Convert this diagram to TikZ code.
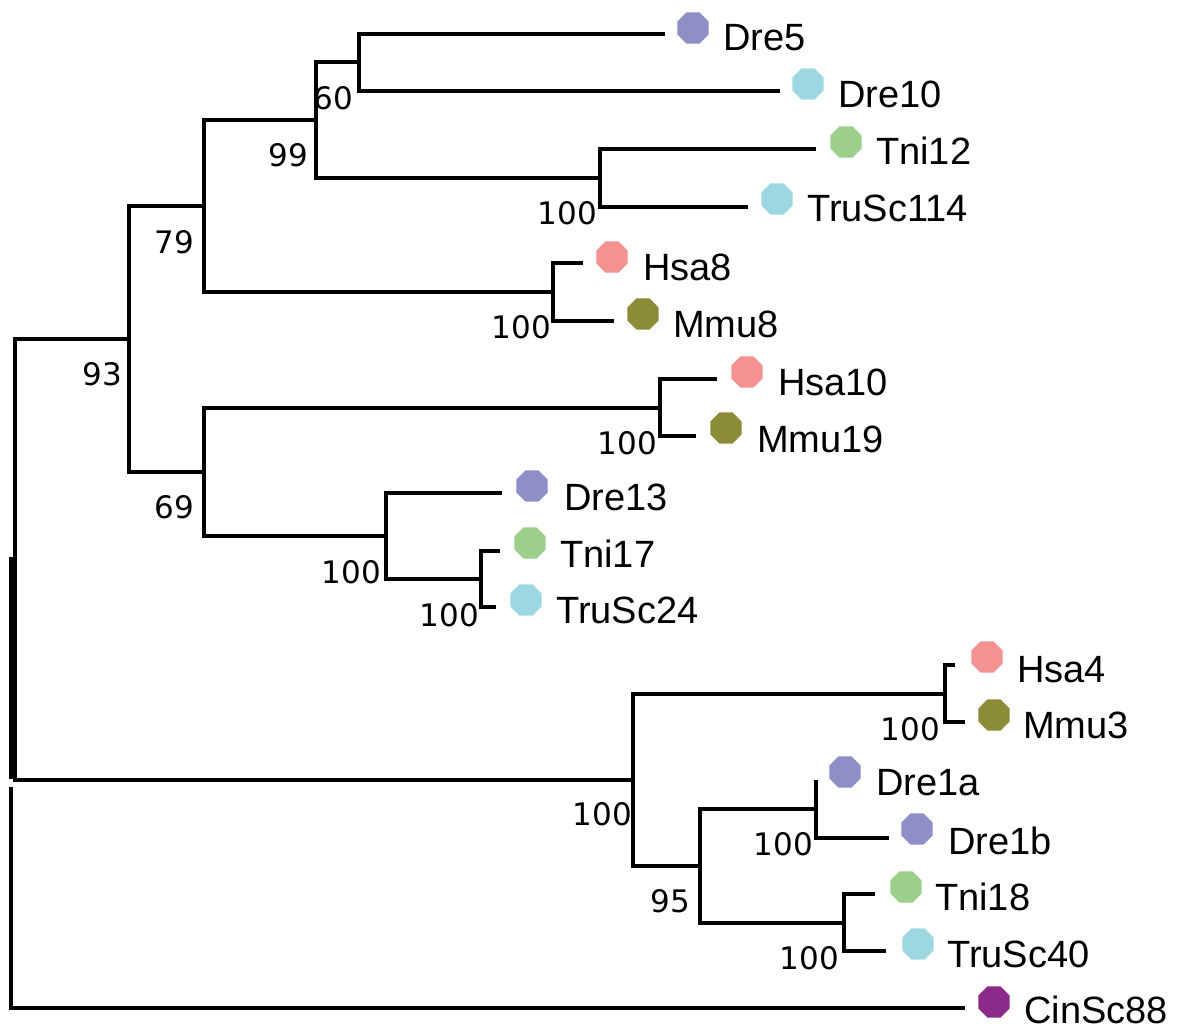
\documentclass[tikz,border=0pt]{standalone}
\usepackage{fontspec}
\setmainfont{Liberation Sans}
\newfontfamily\bsfont{DejaVu Sans}
\usetikzlibrary{shapes.geometric}
\definecolor{cdre}{HTML}{8E8FC6}
\definecolor{ccyan}{HTML}{9DD8E2}
\definecolor{cgreen}{HTML}{9BCF8A}
\definecolor{cpink}{HTML}{F49191}
\definecolor{colive}{HTML}{8C8C38}
\definecolor{ccin}{HTML}{8B2A8A}
\tikzset{
  br/.style={line width=4pt, line join=miter, line cap=butt},
  boot/.style={anchor=base east, inner sep=0pt, font=\bsfont\fontsize{31}{31}\selectfont},
  leaf/.style={anchor=base west, inner sep=0pt, font=\fontsize{38}{38}\selectfont},
  octdot/.style={regular polygon, regular polygon sides=8, minimum size=34pt, inner sep=0pt, fill=#1, draw=none},
}
\begin{document}
\begin{tikzpicture}[x=1pt,y=-1pt]
\useasboundingbox (0,0) rectangle (1180,1035);
% internal nodes
\coordinate (root) at (15,558.5);
\coordinate (n93) at (129,339);
\coordinate (n79) at (204,206.5);
\coordinate (n99) at (316,120.5);
\coordinate (n60) at (359,62.5);
\coordinate (nT) at (600,178);
\coordinate (nH8) at (553,292);
\coordinate (n69) at (204,472);
\coordinate (nH10) at (660,407.5);
\coordinate (nD13) at (386,536);
\coordinate (nT17) at (481,579);
\coordinate (nL) at (633,779.5);
\coordinate (nH4) at (945,693.5);
\coordinate (n95) at (700,865.5);
\coordinate (nD1) at (816,809);
\coordinate (nT18) at (844,922.5);
\coordinate (outA) at (11,557);
\coordinate (outB) at (11,779);
\coordinate (outC) at (11,787);
% leaf tips
\coordinate (tDre5) at (665,34);
\coordinate (tDre10) at (780,91);
\coordinate (tTni12) at (816,149);
\coordinate (tTruSc114) at (748,207);
\coordinate (tHsa8) at (583,263);
\coordinate (tMmu8) at (614,321);
\coordinate (tHsa10) at (717,379);
\coordinate (tMmu19) at (696,436);
\coordinate (tDre13) at (502,493);
\coordinate (tTni17) at (500,551);
\coordinate (tTruSc24) at (496,607);
\coordinate (tHsa4) at (955,665);
\coordinate (tMmu3) at (965,722);
\coordinate (tDre1a) at (816,780);
\coordinate (tDre1b) at (889,838);
\coordinate (tTni18) at (875,894);
\coordinate (tTruSc40) at (886,951);
\coordinate (tCinSc88) at (965,1008);
% bootstrap labels
\node[boot] (b60) at (353,110) {60};
\node[boot] (b99) at (308,167) {99};
\node[boot] (bT) at (597,225) {100};
\node[boot] (b79) at (194,253) {79};
\node[boot] (bH8) at (551,338) {100};
\node[boot] (b93) at (122,385) {93};
\node[boot] (bH10) at (657,454) {100};
\node[boot] (b69) at (194,518) {69};
\node[boot] (bD13) at (381,583) {100};
\node[boot] (bT17) at (479,626) {100};
\node[boot] (bL) at (632,825) {100};
\node[boot] (bH4) at (940,740) {100};
\node[boot] (bD1) at (813,855) {100};
\node[boot] (b95) at (690,912) {95};
\node[boot] (bT18) at (839,969) {100};
% branches
\draw[br] (root) |- (n93);
\draw[br] (root) |- (nL);
\draw[br] (outA) -- (outB);
\draw[br] (outC) |- (tCinSc88);
\draw[br] (n93) |- (n79);
\draw[br] (n93) |- (n69);
\draw[br] (n79) |- (n99);
\draw[br] (n79) |- (nH8);
\draw[br] (n99) |- (n60);
\draw[br] (n99) |- (nT);
\draw[br] (n60) |- (tDre5);
\draw[br] (n60) |- (tDre10);
\draw[br] (nT) |- (tTni12);
\draw[br] (nT) |- (tTruSc114);
\draw[br] (nH8) |- (tHsa8);
\draw[br] (nH8) |- (tMmu8);
\draw[br] (n69) |- (nH10);
\draw[br] (n69) |- (nD13);
\draw[br] (nH10) |- (tHsa10);
\draw[br] (nH10) |- (tMmu19);
\draw[br] (nD13) |- (tDre13);
\draw[br] (nD13) |- (nT17);
\draw[br] (nT17) |- (tTni17);
\draw[br] (nT17) |- (tTruSc24);
\draw[br] (nL) |- (nH4);
\draw[br] (nL) |- (n95);
\draw[br] (nH4) |- (tHsa4);
\draw[br] (nH4) |- (tMmu3);
\draw[br] (n95) |- (nD1);
\draw[br] (n95) |- (nT18);
\draw[br] (nD1) -- (tDre1a);
\draw[br] (nD1) |- (tDre1b);
\draw[br] (nT18) |- (tTni18);
\draw[br] (nT18) |- (tTruSc40);
% leaf dots and names
\node[octdot=cdre] (dDre5) at (693,28) {};
\node[leaf] (lDre5) at (723,51) {Dre5};
\node[octdot=ccyan] (dDre10) at (808,84) {};
\node[leaf] (lDre10) at (838,108) {Dre10};
\node[octdot=cgreen] (dTni12) at (846,142) {};
\node[leaf] (lTni12) at (876,165) {Tni12};
\node[octdot=ccyan] (dTruSc114) at (777,199) {};
\node[leaf] (lTruSc114) at (807,222) {TruSc114};
\node[octdot=cpink] (dHsa8) at (612,257) {};
\node[leaf] (lHsa8) at (643,280) {Hsa8};
\node[octdot=colive] (dMmu8) at (643,314) {};
\node[leaf] (lMmu8) at (673,337) {Mmu8};
\node[octdot=cpink] (dHsa10) at (747,372) {};
\node[leaf] (lHsa10) at (778,395) {Hsa10};
\node[octdot=colive] (dMmu19) at (726,428) {};
\node[leaf] (lMmu19) at (757,452) {Mmu19};
\node[octdot=cdre] (dDre13) at (532,486) {};
\node[leaf] (lDre13) at (564,510) {Dre13};
\node[octdot=cgreen] (dTni17) at (530,543) {};
\node[leaf] (lTni17) at (560,567) {Tni17};
\node[octdot=ccyan] (dTruSc24) at (526,600) {};
\node[leaf] (lTruSc24) at (556,623) {TruSc24};
\node[octdot=cpink] (dHsa4) at (987,657) {};
\node[leaf] (lHsa4) at (1017,682) {Hsa4};
\node[octdot=colive] (dMmu3) at (994,715) {};
\node[leaf] (lMmu3) at (1023,738) {Mmu3};
\node[octdot=cdre] (dDre1a) at (845,772) {};
\node[leaf] (lDre1a) at (876,795) {Dre1a};
\node[octdot=cdre] (dDre1b) at (917,829) {};
\node[leaf] (lDre1b) at (948,854) {Dre1b};
\node[octdot=cgreen] (dTni18) at (906,887) {};
\node[leaf] (lTni18) at (935,910) {Tni18};
\node[octdot=ccyan] (dTruSc40) at (918,944) {};
\node[leaf] (lTruSc40) at (947,967) {TruSc40};
\node[octdot=ccin] (dCinSc88) at (994,1002) {};
\node[leaf] (lCinSc88) at (1024,1023) {CinSc88};
\end{tikzpicture}
\end{document}
